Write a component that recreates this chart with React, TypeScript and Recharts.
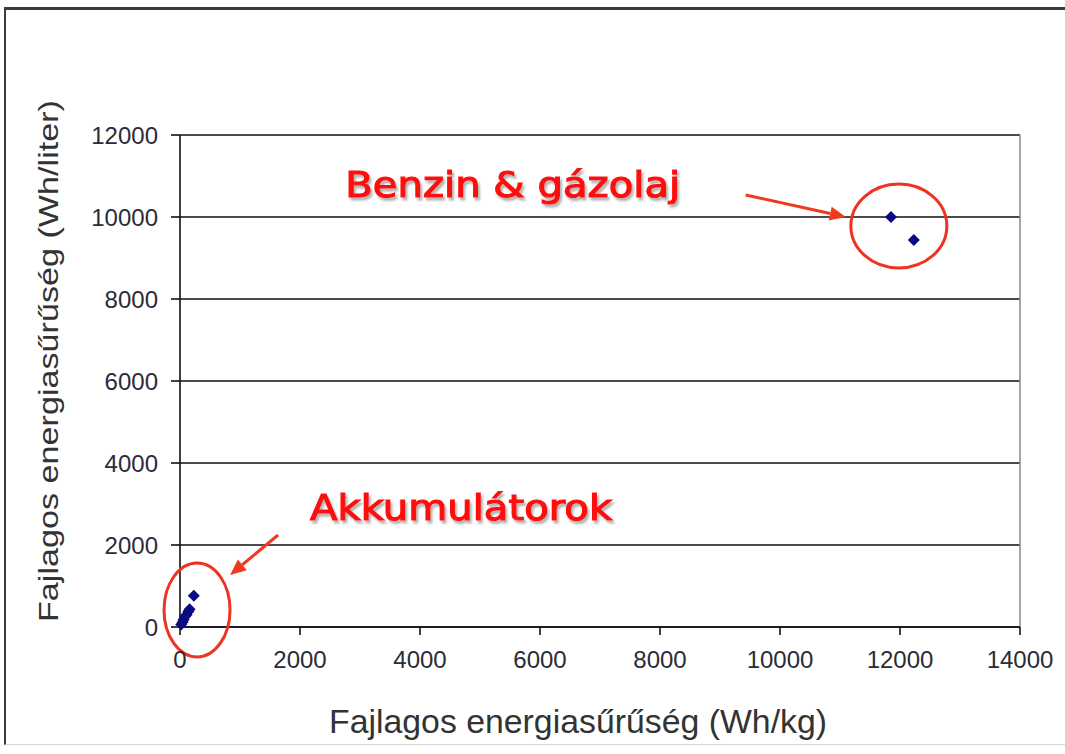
import React from 'react';
import {
  ScatterChart, Scatter, XAxis, YAxis, CartesianGrid, ReferenceLine, ReferenceDot, Customized,
} from 'recharts';

// Fuel points (Wh/kg, Wh/liter)
const fuelX = [11850, 12230];
const fuelY = [10000, 9440];
// Battery points
const battX = [20, 45, 60, 80, 110, 140, 160, 230];
const battY = [60, 120, 180, 250, 300, 380, 430, 760];

const xTicks = [0, 2000, 4000, 6000, 8000, 10000, 12000, 14000];
const yTicks = [0, 2000, 4000, 6000, 8000, 10000, 12000];

const xTitle = 'Fajlagos energiasűrűség (Wh/kg)';
const yTitle = 'Fajlagos energiasűrűség (Wh/liter)';
const fuelLabel = 'Benzin & gázolaj';
const battLabel = 'Akkumulátorok';

const data = [
  ...fuelX.map((x, i) => ({ x, y: fuelY[i] })),
  ...battX.map((x, i) => ({ x, y: battY[i] })),
];

const RED = '#ff1010';

const Diamond = (p: any) => {
  const r = 6;
  return <polygon points={`${p.cx},${p.cy - r} ${p.cx + r},${p.cy} ${p.cx},${p.cy + r} ${p.cx - r},${p.cy}`} fill="#0a0a80" />;
};

const Ellipse = (rx: number, ry: number) => (p: any) => (
  <ellipse cx={p.cx} cy={p.cy} rx={rx} ry={ry} fill="none" stroke="#ee3322" strokeWidth={3} />
);

const LabelText = (txt: string, len: number) => (p: any) => (
  <text x={p.cx} y={p.cy} fill={RED} stroke={RED} strokeWidth={1.2} filter="url(#tshadow)"
    fontFamily="DejaVu Sans, Verdana, sans-serif" fontSize={36} textLength={len} lengthAdjust="spacingAndGlyphs">{txt}</text>
);

const Arrow = (p: any) => {
  const { x1, y1, x2, y2 } = p;
  const ang = Math.atan2(y2 - y1, x2 - x1);
  const L = 16, W = 7;
  const bx = x2 - L * Math.cos(ang), by = y2 - L * Math.sin(ang);
  const px = -Math.sin(ang) * W, py = Math.cos(ang) * W;
  return (
    <g>
      <line x1={x1} y1={y1} x2={bx} y2={by} stroke="#f03a1e" strokeWidth={3} />
      <polygon points={`${x2},${y2} ${bx + px},${by + py} ${bx - px},${by - py}`} fill="#f03a1e" />
    </g>
  );
};

const Titles = () => (
  <g>
    <defs>
      <filter id="tshadow" x="-10%" y="-30%" width="130%" height="160%">
        <feDropShadow dx="2" dy="3" stdDeviation="1.2" floodColor="#666" floodOpacity="0.5" />
      </filter>
    </defs>
    <text x={578} y={733} textAnchor="middle" fontFamily="Liberation Sans Narrow, Arial Narrow, sans-serif" fontSize={34} fill="#333" textLength={498} lengthAdjust="spacingAndGlyphs">{xTitle}</text>
    <text x={58} y={361} textAnchor="middle" transform="rotate(-90 58 361)" fontFamily="Liberation Sans, Arial, sans-serif" fontSize={28} fill="#333" textLength={522} lengthAdjust="spacingAndGlyphs">{yTitle}</text>
  </g>
);

export default function App() {
  return (
    <div style={{ position: 'absolute', left: 0, top: 0, width: 1065, height: 754, background: '#fff' }}>
      <div style={{ position: 'absolute', left: 4, top: 7, width: 1080, height: 738, borderTop: '3px solid #3a3a3a', borderLeft: '2px solid #3a3a3a', borderBottom: '1px solid #d8d8d8', boxSizing: 'border-box' }} />
      <ScatterChart width={1065} height={754} margin={{ top: 135, right: 45, bottom: 77, left: 110 }} style={{ position: 'absolute', left: 0, top: 0 }}>
        <Customized component={Titles} />
        <CartesianGrid vertical={false} stroke="#111" strokeWidth={1.6} horizontalValues={yTicks} />
        <XAxis type="number" dataKey="x" domain={[0, 14000]} ticks={xTicks} interval={0}
          axisLine={{ stroke: '#111', strokeWidth: 1.6 }} tickLine={{ stroke: '#111', strokeWidth: 1.6 }}
          tickSize={8} tickMargin={16} height={50}
          tick={{ fill: '#2b2b3a', fontSize: 24, fontFamily: 'Liberation Sans, Arial, sans-serif' }} />
        <YAxis type="number" dataKey="y" domain={[0, 12000]} ticks={yTicks} interval={0}
          axisLine={{ stroke: '#111', strokeWidth: 1.6 }} tickLine={{ stroke: '#111', strokeWidth: 1.6 }}
          tickSize={9} tickMargin={13} width={70}
          tick={{ fill: '#2b2b3a', fontSize: 24, fontFamily: 'Liberation Sans, Arial, sans-serif' }} />
        <ReferenceLine x={14000} stroke="#888" strokeWidth={1.5} />
        <Scatter data={data} fill="#0a0a80" shape={Diamond} isAnimationActive={false} />
        <ReferenceDot x={11981} y={9780} r={1} shape={Ellipse(48, 42)} ifOverflow="visible" />
        <ReferenceDot x={284} y={415} r={1} shape={Ellipse(33, 47)} ifOverflow="visible" />
        <ReferenceLine segment={[{ x: 9428, y: 10537 }, { x: 11097, y: 10000 }]} shape={Arrow} ifOverflow="visible" />
        <ReferenceLine segment={[{ x: 1635, y: 2244 }, { x: 834, y: 1268 }]} shape={Arrow} ifOverflow="visible" />
        <ReferenceDot x={2753} y={10488} r={1} shape={LabelText(fuelLabel, 335)} ifOverflow="visible" />
        <ReferenceDot x={2169} y={2610} r={1} shape={LabelText(battLabel, 302)} ifOverflow="visible" />
      </ScatterChart>
    </div>
  );
}
